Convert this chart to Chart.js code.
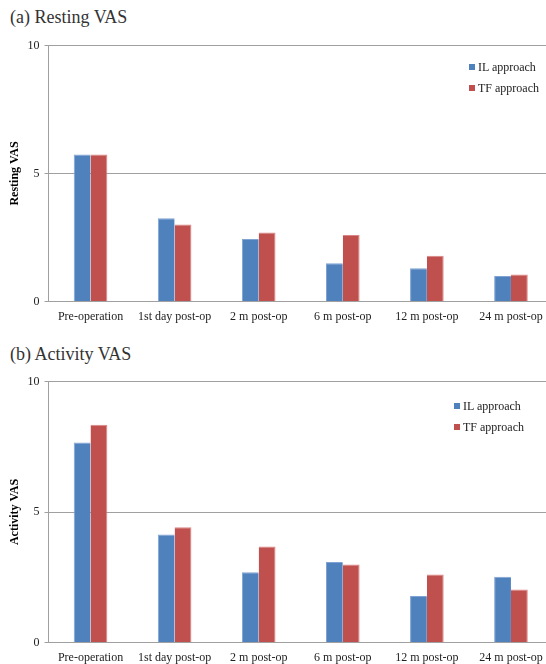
<!DOCTYPE html>
<html>
<head>
<meta charset="utf-8">
<script src="https://cdn.jsdelivr.net/npm/chart.js@4.4.0/dist/chart.umd.min.js"></script>
<style>
    html, body { margin: 0; padding: 0; background: #fff; overflow: hidden; width: 546px; height: 664px; }
    .panel { position: absolute; left: 0; width: 556px; }
    .panel canvas { position: absolute; left: 0; top: 0; }
    .titulo { position: absolute; left: 10px; font: 18px "Liberation Serif", serif; color: #333; line-height: 20px; white-space: nowrap; }
    .leyenda { position: absolute; font: 12px "Liberation Serif", serif; color: #222; }
    .leyenda div { height: 21px; line-height: 21px; white-space: nowrap; }
    .leyenda span { display: inline-block; width: 6px; height: 6px; margin-right: 3px; vertical-align: 1px; }
</style>
</head>
<body>

<div class="panel" id="panelA" style="top:0;height:330px;">
    <div class="titulo" style="top:7px;">(a) Resting VAS</div>
    <canvas id="graficoReposo" width="556" height="330"></canvas>
    <div class="leyenda" id="leyendaA" style="left:469px;top:57px;"></div>
</div>

<div class="panel" id="panelB" style="top:330px;height:334px;">
    <div class="titulo" style="top:14px;">(b) Activity VAS</div>
    <canvas id="graficoActividad" width="556" height="334"></canvas>
    <div class="leyenda" id="leyendaB" style="left:454px;top:66px;"></div>
</div>

<script>
//datos
const categorias = ['Pre-operation', '1st day post-op', '2 m post-op', '6 m post-op', '12 m post-op', '24 m post-op'];
const series = ['IL approach', 'TF approach'];
const reposoIL = [5.74, 3.25, 2.44, 1.49, 1.30, 1.00];
const reposoTF = [5.74, 3.01, 2.70, 2.60, 1.79, 1.05];
const actividadIL = [7.66, 4.14, 2.69, 3.08, 1.78, 2.52];
const actividadTF = [8.34, 4.42, 3.68, 2.99, 2.61, 2.03];
const ticksY = [0, 5, 10];
//termina datos

const colores = ['#4F81BD', '#C0504D'];
const bordes = ['#7fa3d2', '#d98583'];
const gris = '#a0a0a0';
const serif = '"Liberation Serif", "Times New Roman", serif';

function crearGrafico(canvasId, tituloY, datosIL, datosTF, top, alturaX) {
    const ctx = document.getElementById(canvasId);
    return new Chart(ctx, {
        type: 'bar',
        data: {
            labels: categorias,
            datasets: [{
                label: series[0],
                data: datosIL,
                backgroundColor: colores[0],
                borderColor: bordes[0],
                borderWidth: { top: 1, left: 1, right: 0, bottom: 0 },
                borderSkipped: 'bottom'
            }, {
                label: series[1],
                data: datosTF,
                backgroundColor: colores[1],
                borderColor: bordes[1],
                borderWidth: { top: 1, left: 0, right: 1, bottom: 0 },
                borderSkipped: 'bottom'
            }]
        },
        options: {
            responsive: false,
            animation: false,
            layout: { padding: { top: top, right: 3, left: 0, bottom: 0 } },
            datasets: { bar: { categoryPercentage: 0.4, barPercentage: 1.0 } },
            plugins: {
                legend: { display: false },
                tooltip: { enabled: false }
            },
            scales: {
                x: {
                    grid: { display: false, drawTicks: false },
                    border: { display: true, color: gris, width: 1 },
                    ticks: {
                        color: '#222',
                        padding: 8,
                        maxRotation: 0,
                        autoSkip: false,
                        font: { family: serif, size: 12 }
                    },
                    afterFit: function (s) { s.height = alturaX; }
                },
                y: {
                    min: 0,
                    max: 10,
                    afterBuildTicks: function (s) { s.ticks = ticksY.map(v => ({ value: v })); },
                    grid: { color: gris, lineWidth: 1, drawTicks: true, tickLength: 4 },
                    border: { display: true, color: gris, width: 1 },
                    ticks: {
                        color: '#222',
                        padding: 5,
                        font: { family: serif, size: 12 }
                    },
                    title: {
                        display: true,
                        text: tituloY,
                        color: '#000',
                        padding: { top: 8, bottom: 0 },
                        font: { family: serif, size: 12, weight: 'bold' }
                    },
                    afterFit: function (s) { s.width = 48.5; }
                }
            }
        }
    });
}

function crearLeyenda(id) {
    let html = '';
    series.forEach(function (nombre, i) {
        html += '<div><span style="background:' + colores[i] + '"></span>' + nombre + '</div>';
    });
    document.getElementById(id).innerHTML = html;
}

//graficos
let reposoChart = crearGrafico('graficoReposo', 'Resting VAS', reposoIL, reposoTF, 45.5, 28.5);
let actividadChart = crearGrafico('graficoActividad', 'Activity VAS', actividadIL, actividadTF, 51.5, 21.5);
crearLeyenda('leyendaA');
crearLeyenda('leyendaB');
//termina graficos
</script>
</body>
</html>
